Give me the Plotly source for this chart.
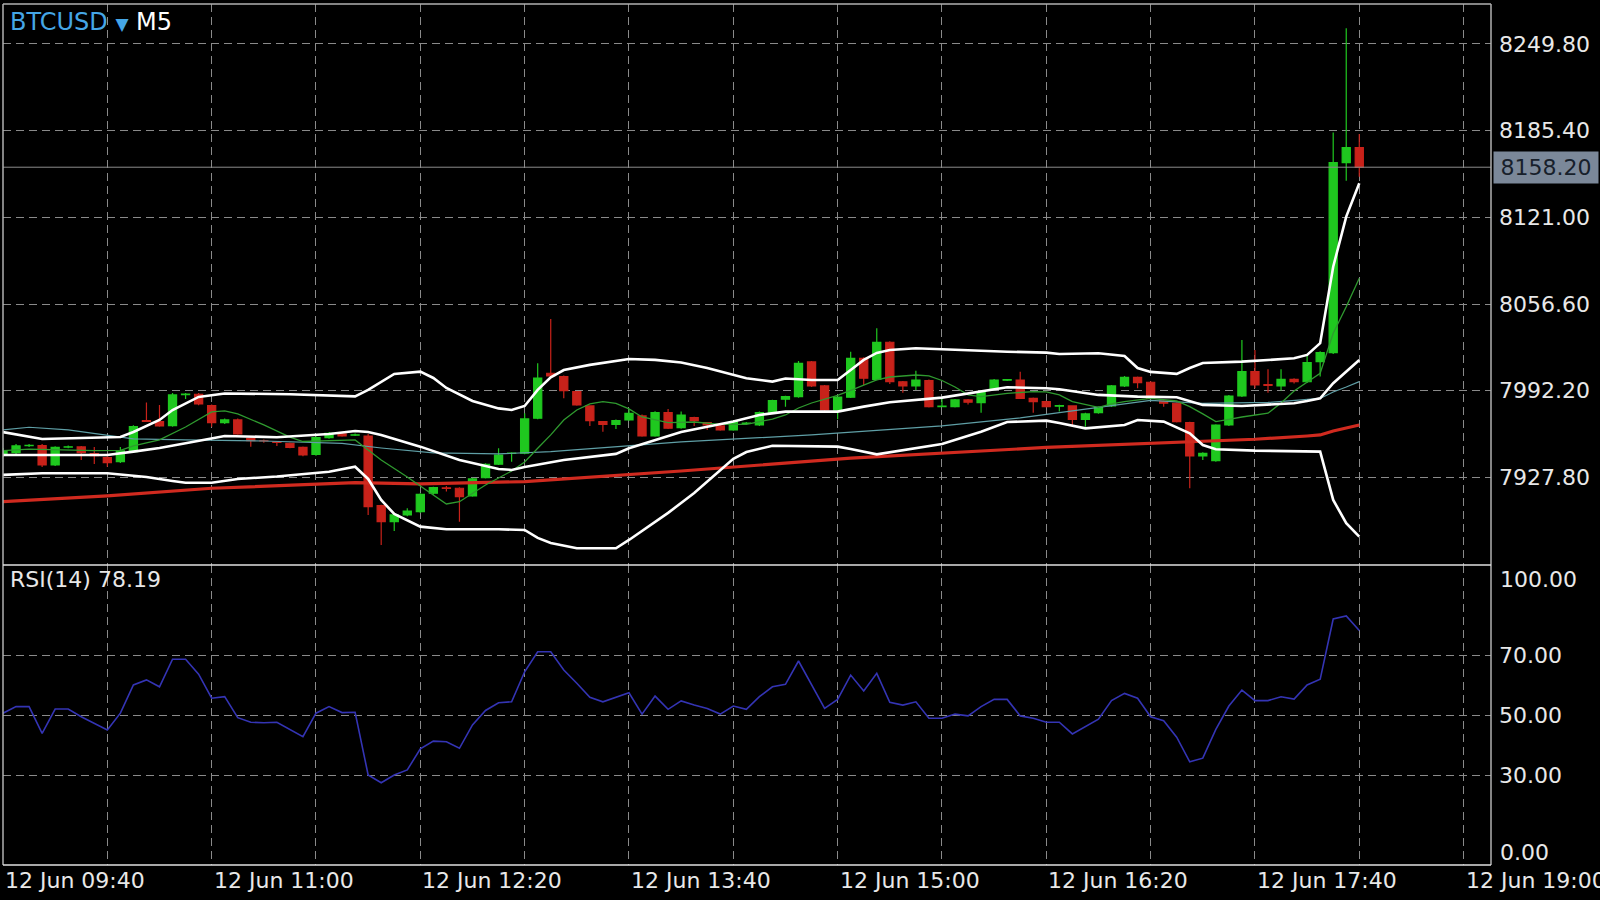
import plotly.graph_objects as go
import pandas as pd

# ---------------- data ----------------
times = pd.date_range("2018-06-12 09:40", periods=105, freq="5min")

opens = [7944.5, 7946.2, 7951.4, 7951.4, 7937.1, 7950.4, 7950.5, 7945.5, 7942.5, 7939.5,
         7947.0, 7970.1, 7969.3, 7966.3, 7989.3, 7989.6, 7981.1, 7968.5, 7970.5, 7956.9,
         7955.0, 7954.2, 7953.2, 7950.2, 7945.0, 7957.4, 7960.1, 7959.2, 7958.6, 7906.9,
         7895.0, 7900.0, 7902.4, 7916.1, 7920.0, 7919.8, 7914.1, 7927.6, 7937.6, 7945.6,
         7945.8, 7971.8, 8005.2, 8002.7, 7991.5, 7980.9, 7969.3, 7967.3, 7970.5, 7973.5,
         7958.6, 7975.9, 7964.8, 7972.2, 7968.5, 7966.1, 7963.1, 7968.0, 7966.8, 7976.2,
         7985.9, 7987.8, 8013.6, 7995.8, 7977.9, 7987.4, 8016.3, 8000.7, 8028.2, 7998.9,
         7995.8, 7999.7, 7980.4, 7980.4, 7985.4, 7983.4, 7993.3, 8000.0, 8000.2, 7986.6,
         7984.1, 7980.7, 7980.9, 7971.0, 7975.9, 7980.9, 7995.8, 8002.2, 7998.5, 7984.6,
         7982.9, 7968.5, 7943.8, 7940.3, 7966.8, 7988.3, 8006.4, 7996.8, 7995.8, 8000.7,
         7998.9, 8013.8, 8020.5, 8161.6, 8172.7]
highs = [7949.7, 7952.7, 7952.7, 7952.7, 7951.0, 7951.5, 7951.2, 7950.5, 7943.5, 7950.5,
         7966.5, 7983.4, 7981.6, 7990.6, 7990.6, 7990.6, 7982.0, 7971.5, 7971.5, 7957.5,
         7956.0, 7954.8, 7953.8, 7950.8, 7958.5, 7961.5, 7960.8, 7960.5, 7960.0, 7907.5,
         7901.0, 7904.9, 7916.0, 7921.0, 7921.5, 7920.5, 7927.5, 7938.3, 7949.5, 7946.5,
         7975.5, 8012.6, 8045.5, 8003.5, 7992.0, 7981.5, 7969.8, 7970.8, 7978.7, 7974.5,
         7977.0, 7978.7, 7976.8, 7972.8, 7969.0, 7966.8, 7970.0, 7969.0, 7976.8, 7985.5,
         7988.5, 8014.3, 8014.3, 7996.5, 7988.0, 8021.2, 8017.0, 8038.6, 8029.0, 7999.5,
         8007.1, 8000.5, 7986.6, 7986.0, 7986.0, 7991.5, 8001.0, 8001.0, 8006.4, 7987.2,
         7984.8, 7981.8, 7981.5, 7975.8, 7980.5, 7996.5, 8003.2, 8002.8, 7999.2, 7985.2,
         7983.5, 7969.2, 7946.5, 7967.3, 7989.0, 8029.9, 8022.5, 8008.2, 8008.2, 8001.5,
         8018.8, 8021.5, 8183.9, 8261.4, 8182.9]
lows = [7943.0, 7945.3, 7950.5, 7935.6, 7936.3, 7949.5, 7940.8, 7937.8, 7935.8, 7938.5,
        7946.0, 7969.0, 7965.5, 7965.5, 7986.1, 7981.5, 7965.5, 7967.5, 7959.5, 7950.7,
        7953.5, 7951.2, 7949.5, 7943.5, 7944.0, 7956.5, 7958.0, 7958.6, 7899.9, 7877.7,
        7888.1, 7899.0, 7901.5, 7915.0, 7917.3, 7895.0, 7913.5, 7927.0, 7937.0, 7939.5,
        7945.0, 7971.0, 8002.5, 7986.6, 7981.0, 7966.1, 7961.8, 7963.8, 7970.0, 7958.0,
        7958.0, 7963.8, 7964.0, 7966.1, 7963.1, 7962.5, 7962.5, 7967.0, 7966.0, 7975.5,
        7980.4, 7987.0, 7995.0, 7977.0, 7971.0, 7986.8, 7996.5, 8000.0, 7997.2, 7990.8,
        7992.8, 7979.8, 7980.0, 7979.8, 7982.0, 7975.9, 7992.5, 7999.5, 7986.0, 7975.9,
        7979.8, 7976.7, 7966.1, 7965.5, 7975.2, 7980.2, 7995.0, 7994.0, 7986.0, 7980.4,
        7968.7, 7919.8, 7940.8, 7939.5, 7966.0, 7987.6, 7994.0, 7990.8, 7992.3, 7997.5,
        7998.0, 8002.7, 8019.5, 8148.2, 8151.2]
closes = [7947.7, 7951.2, 7951.6, 7937.1, 7950.2, 7950.6, 7946.2, 7944.0, 7938.8, 7947.5,
          7965.5, 7969.4, 7966.1, 7989.1, 7989.8, 7982.4, 7968.5, 7970.5, 7960.1, 7955.1,
          7954.9, 7953.8, 7950.2, 7944.5, 7957.4, 7960.6, 7958.6, 7959.5, 7906.1, 7895.0,
          7900.0, 7902.9, 7915.3, 7920.2, 7919.6, 7913.6, 7926.7, 7937.6, 7944.5, 7945.9,
          7971.3, 8001.5, 8003.2, 7992.3, 7981.6, 7970.0, 7967.3, 7970.0, 7975.5, 7958.6,
          7975.9, 7964.4, 7974.2, 7970.0, 7966.8, 7963.1, 7969.3, 7968.2, 7975.9, 7984.8,
          7987.8, 8012.6, 7995.8, 7977.9, 7987.4, 8016.3, 8001.5, 8028.2, 7998.9, 7995.8,
          8000.2, 7980.4, 7980.8, 7985.4, 7983.7, 7990.8, 8000.2, 8000.4, 7986.6, 7984.1,
          7980.4, 7981.1, 7971.0, 7975.0, 7979.9, 7995.8, 8002.2, 7998.2, 7986.6, 7982.9,
          7969.3, 7943.8, 7945.8, 7966.6, 7988.3, 8006.4, 7996.5, 7996.2, 8000.7, 7998.9,
          8013.1, 8020.5, 8161.6, 8172.7, 8158.2]

# Bollinger bands (read at bar indices)
bb_upper_bars = [0, 3, 9, 10, 12, 13, 15, 17, 22, 27, 28, 29, 30, 32, 33, 34, 36, 38, 39, 40,
                 41, 42, 43, 45, 47, 48, 50, 52, 54, 57, 59, 60, 62, 64, 65, 66, 67, 68, 70, 73,
                 77, 80, 81, 84, 86, 87, 88, 90, 91, 92, 95, 99, 100, 101, 102, 103, 104]
bb_upper_vals = [7961.5, 7956.4, 7957.9, 7961.6, 7970.5, 7977.9, 7987.6, 7990.2, 7989.6, 7988.0,
                 7992.8, 7999.0, 8004.7, 8006.4, 8001.7, 7994.3, 7984.6, 7979.1, 7977.9, 7980.9,
                 7992.8, 8002.2, 8007.6, 8011.4, 8014.3, 8015.8, 8015.1, 8013.2, 8009.1, 8001.5,
                 7999.0, 8001.3, 8000.2, 8000.2, 8007.6, 8015.1, 8020.3, 8022.5, 8023.8, 8022.5,
                 8021.2, 8020.5, 8019.5, 8020.0, 8018.0, 8009.1, 8006.2, 8004.7, 8009.1, 8012.8,
                 8013.8, 8016.3, 8018.8, 8027.5, 8084.3, 8121.5, 8146.3]
bb_mid_bars = [0, 8, 10, 12, 14, 17, 21, 25, 27, 28, 29, 32, 35, 38, 39, 40, 43, 47, 48, 51,
               52, 56, 58, 60, 64, 66, 68, 72, 77, 80, 81, 84, 87, 90, 92, 95, 99, 100, 101, 102,
               103, 104]
bb_mid_vals = [7944.5, 7944.5, 7947.0, 7949.7, 7953.2, 7958.6, 7957.7, 7960.1, 7962.3, 7961.6,
               7959.4, 7950.7, 7940.8, 7934.1, 7933.4, 7935.6, 7940.8, 7945.3, 7949.5, 7958.6,
               7961.6, 7969.3, 7974.2, 7976.7, 7976.7, 7980.4, 7983.7, 7987.1, 7994.8, 7994.1,
               7993.3, 7989.1, 7987.8, 7987.4, 7981.7, 7980.9, 7982.9, 7984.6, 7986.6, 7997.8,
               8006.4, 8015.1]
bb_lower_bars = [0, 3, 8, 11, 13, 14, 16, 18, 21, 24, 25, 27, 28, 29, 30, 32, 34, 38, 40, 41,
                 42, 44, 47, 48, 49, 51, 53, 54, 56, 57, 59, 64, 65, 67, 69, 72, 75, 77, 80, 81,
                 83, 86, 87, 89, 91, 92, 93, 96, 101, 102, 103, 104]
bb_lower_vals = [7929.7, 7930.9, 7930.9, 7928.2, 7925.2, 7923.9, 7923.9, 7926.7, 7928.5, 7930.9,
                 7932.1, 7935.8, 7926.7, 7911.1, 7900.7, 7891.3, 7889.3, 7889.3, 7888.8, 7882.9,
                 7879.2, 7875.2, 7875.2, 7881.4, 7888.1, 7901.5, 7916.3, 7924.5, 7941.6, 7946.7,
                 7951.4, 7950.7, 7949.0, 7945.0, 7948.2, 7952.7, 7961.8, 7969.0, 7970.0, 7968.3,
                 7964.3, 7966.8, 7970.5, 7969.3, 7960.6, 7951.9, 7948.8, 7947.7, 7947.0, 7911.1,
                 7893.8, 7883.9]

# fast moving average (green)
ma_fast_bars = [0, 2, 7, 9, 10, 12, 14, 16, 17, 18, 20, 22, 23, 25, 27, 28, 29, 31, 32, 34,
                35, 36, 37, 39, 40, 41, 42, 43, 44, 45, 46, 47, 48, 49, 51, 53, 55, 57, 58, 59,
                60, 61, 62, 63, 64, 65, 66, 67, 68, 70, 71, 72, 73, 74, 75, 77, 79, 80, 81, 82,
                84, 85, 86, 88, 90, 91, 92, 93, 94, 95, 97, 98, 99, 100, 101, 102, 103, 104]
ma_fast_vals = [7947.7, 7948.8, 7947.7, 7947.9, 7951.2, 7955.7, 7965.3, 7976.5, 7977.2, 7975.0,
                7966.8, 7957.7, 7954.5, 7954.9, 7955.7, 7948.2, 7940.8, 7928.2, 7921.5, 7908.1,
                7909.8, 7916.3, 7922.2, 7932.6, 7939.3, 7949.5, 7959.4, 7970.5, 7977.9, 7982.4,
                7984.1, 7982.8, 7978.7, 7972.7, 7968.5, 7969.0, 7967.3, 7967.3, 7969.0, 7971.2,
                7974.2, 7979.4, 7983.1, 7986.1, 7988.7, 7992.4, 7996.5, 8000.2, 8002.4, 8003.9,
                8003.2, 7999.8, 7995.0, 7989.1, 7987.8, 7990.3, 7991.5, 7991.3, 7989.1, 7984.1,
                7979.9, 7982.4, 7984.1, 7986.6, 7984.6, 7980.4, 7975.0, 7969.3, 7970.9, 7972.7,
                7975.5, 7983.1, 7992.0, 7998.7, 8005.2, 8034.9, 8054.6, 8075.7]

# medium moving average (teal)
ma_mid_bars = [0, 2, 5, 8, 10, 14, 20, 26, 29, 33, 38, 42, 47, 52, 62, 72, 78, 82, 85, 88,
               92, 97, 101, 102, 103, 104]
ma_mid_vals = [7963.1, 7965.1, 7963.1, 7959.4, 7956.4, 7955.7, 7954.9, 7953.1, 7949.7, 7946.0,
               7945.3, 7947.0, 7950.7, 7954.2, 7959.4, 7966.1, 7972.0, 7977.2, 7981.6, 7985.0,
               7982.8, 7983.5, 7986.5, 7991.3, 7995.0, 7999.0]

# slow moving average (red)
ma_slow_bars = [0, 8, 16, 27, 32, 40, 52, 65, 80, 92, 96, 100, 101, 102, 104]
ma_slow_vals = [7909.8, 7914.1, 7919.8, 7923.9, 7923.0, 7924.7, 7932.6, 7942.1, 7950.1, 7954.4,
                7956.2, 7958.6, 7959.4, 7962.3, 7966.8]

rsi = [50.6, 52.8, 52.8, 43.9, 52.0, 52.0, 49.4, 47.2, 45.0, 50.6,
       60.0, 61.7, 59.4, 68.6, 68.6, 63.6, 55.6, 56.1, 49.1, 47.6,
       47.4, 47.6, 45.2, 42.8, 50.6, 52.8, 50.8, 50.9, 30.0, 27.4,
       30.0, 31.7, 38.7, 41.3, 41.1, 38.9, 46.7, 51.5, 54.1, 54.4,
       64.4, 71.1, 71.1, 65.0, 60.6, 55.9, 54.4, 55.9, 57.4, 50.3,
       56.3, 51.9, 54.7, 53.3, 52.2, 50.3, 53.0, 51.9, 56.1, 59.4,
       60.2, 68.0, 60.0, 52.2, 55.2, 63.3, 58.0, 63.9, 54.2, 53.3,
       54.4, 48.9, 48.9, 50.3, 49.7, 52.8, 55.2, 55.2, 49.7, 48.9,
       47.6, 47.6, 43.7, 46.1, 48.6, 54.8, 57.2, 55.6, 49.4, 48.1,
       42.6, 34.4, 35.6, 45.2, 53.0, 58.3, 54.8, 54.8, 56.1, 55.3,
       60.0, 61.9, 82.0, 83.0, 78.19]

price_ticks = [7927.8, 7992.2, 8056.6, 8121.0, 8185.4, 8249.8]
price_tick_text = ["7927.80", "7992.20", "8056.60", "8121.00", "8185.40", "8249.80"]
rsi_ticks = [30, 50, 70]
rsi_tick_text = ["30.00", "50.00", "70.00"]
time_ticks = ["2018-06-12 09:40", "2018-06-12 11:00", "2018-06-12 12:20", "2018-06-12 13:40",
              "2018-06-12 15:00", "2018-06-12 16:20", "2018-06-12 17:40", "2018-06-12 19:00"]
time_tick_text = ["12 Jun 09:40", "12 Jun 11:00", "12 Jun 12:20", "12 Jun 13:40",
                  "12 Jun 15:00", "12 Jun 16:20", "12 Jun 17:40", "12 Jun 19:00"]
last_price = 8158.20
rsi_last = 78.19

# ---------------- style ----------------
FONT = "DejaVu Sans"
GRID = "#8a8a8a"
DASH = "8px,5px"
W, H = 1600, 900
ML, MR, MT, MB = 3, 109, 4, 35
split = 300 / 861.0


def tx(bars):
    return [times[i] for i in bars]


fig = go.Figure()

fig.add_trace(go.Candlestick(
    x=times, open=opens, high=highs, low=lows, close=closes,
    increasing=dict(line=dict(color="#1fc81f", width=1.2), fillcolor="#1fc81f"),
    decreasing=dict(line=dict(color="#c8221a", width=1.2), fillcolor="#c8221a"),
    whiskerwidth=0, xaxis="x", yaxis="y", showlegend=False))

fig.add_trace(go.Scatter(x=tx(ma_slow_bars), y=ma_slow_vals, mode="lines",
                         line=dict(color="#d02a1f", width=3.2), xaxis="x", yaxis="y"))
fig.add_trace(go.Scatter(x=tx(ma_mid_bars), y=ma_mid_vals, mode="lines",
                         line=dict(color="#5f9fa6", width=1.2), xaxis="x", yaxis="y"))
fig.add_trace(go.Scatter(x=tx(ma_fast_bars), y=ma_fast_vals, mode="lines",
                         line=dict(color="#2f9a2f", width=1.3), xaxis="x", yaxis="y"))
for bars, vals in [(bb_upper_bars, bb_upper_vals), (bb_mid_bars, bb_mid_vals),
                   (bb_lower_bars, bb_lower_vals)]:
    fig.add_trace(go.Scatter(x=tx(bars), y=vals, mode="lines",
                             line=dict(color="#ffffff", width=2.6), xaxis="x", yaxis="y"))

fig.add_trace(go.Scatter(x=times, y=rsi, mode="lines",
                         line=dict(color="#3434b4", width=1.6), xaxis="x2", yaxis="y2"))

x_range = [pd.Timestamp("2018-06-12 09:40"), pd.Timestamp("2018-06-12 09:40") + pd.Timedelta(minutes=570.5)]
xcommon = dict(range=x_range, showgrid=True, gridcolor=GRID, griddash=DASH, gridwidth=1,
               tick0="2018-06-12 09:40", dtick=40 * 60 * 1000, showticklabels=False,
               zeroline=False, showline=False, ticks="", type="date")

fig.update_layout(
    width=W, height=H,
    margin=dict(l=ML, r=MR, t=MT, b=MB, pad=0, autoexpand=False),
    paper_bgcolor="#000000", plot_bgcolor="#000000",
    showlegend=False,
    boxgap=0.21, boxgroupgap=0.21,
    font=dict(family=FONT, size=22, color="#e8e8e8"),
    xaxis=dict(domain=[0, 1], anchor="y", rangeslider=dict(visible=False), **xcommon),
    xaxis2=dict(domain=[0, 1], anchor="y2", matches="x", **xcommon),
    yaxis=dict(domain=[split, 1], side="right", range=[7862.8, 8279.4],
               tickmode="array", tickvals=price_ticks, ticktext=price_tick_text,
               showgrid=True, gridcolor=GRID, griddash=DASH, gridwidth=1,
               zeroline=False, showline=False, ticks="", ticklabelstandoff=7,
               tickfont=dict(family=FONT, size=22, color="#e8e8e8")),
    yaxis2=dict(domain=[0, split], side="right", range=[0, 100],
                tickmode="array", tickvals=rsi_ticks, ticktext=rsi_tick_text,
                showgrid=True, gridcolor=GRID, griddash=DASH, gridwidth=1,
                zeroline=False, showline=False, ticks="", ticklabelstandoff=7,
                tickfont=dict(family=FONT, size=22, color="#e8e8e8")),
)

shapes = [
    # current price line
    dict(type="line", xref="paper", yref="y", x0=0, x1=1, y0=last_price, y1=last_price,
         line=dict(color="#8c8c8c", width=1)),
    # frame
    dict(type="line", xref="paper", yref="paper", x0=0, x1=0, y0=0, y1=1, line=dict(color="#b0b0b0", width=1.5)),
    dict(type="line", xref="paper", yref="paper", x0=1, x1=1, y0=0, y1=1, line=dict(color="#b0b0b0", width=1.5)),
    dict(type="line", xref="paper", yref="paper", x0=0, x1=1, y0=1, y1=1, line=dict(color="#b0b0b0", width=1.5)),
    dict(type="line", xref="paper", yref="paper", x0=0, x1=1, y0=split, y1=split, line=dict(color="#e0e0e0", width=1.5)),
    dict(type="line", xref="paper", yref="paper", x0=0, x1=1, y0=0, y1=0, line=dict(color="#e0e0e0", width=1.5)),
]
fig.update_layout(shapes=shapes)

ann = []
ann.append(dict(xref="paper", yref="paper", x=5 / 1488, y=(865 - 21.5) / 861, xanchor="left", yanchor="middle",
                showarrow=False,
                text='<span style="color:#45a6e6">BTCUSD</span> <span style="color:#45a6e6;font-size:17px">▼</span> M5',
                font=dict(family=FONT, size=24, color="#ffffff")))
ann.append(dict(xref="paper", yref="paper", x=5 / 1488, y=(865 - 579) / 861, xanchor="left", yanchor="middle",
                showarrow=False, text="RSI(14) %.2f" % rsi_last,
                font=dict(family=FONT, size=22, color="#e8e8e8")))
ann.append(dict(xref="paper", yref="y", x=1, xshift=2, y=last_price, xanchor="left", yanchor="middle",
                showarrow=False, text="%.2f" % last_price, bgcolor="#7b8899", borderpad=3, width=98,
                align="center", font=dict(family=FONT, size=22, color="#17202b")))
ann.append(dict(xref="paper", yref="paper", x=1, xshift=7, y=(865 - 579) / 861, xanchor="left", yanchor="middle",
                showarrow=False, text="100.00", font=dict(family=FONT, size=22, color="#e8e8e8")))
ann.append(dict(xref="paper", yref="paper", x=1, xshift=7, y=(865 - 852) / 861, xanchor="left", yanchor="middle",
                showarrow=False, text="0.00", font=dict(family=FONT, size=22, color="#e8e8e8")))
for t, s in zip(time_ticks, time_tick_text):
    ann.append(dict(xref="x2", yref="paper", x=t, y=-15 / 861, xanchor="left", yanchor="middle",
                    showarrow=False, text=s, xshift=0,
                    font=dict(family=FONT, size=22, color="#e8e8e8")))
fig.update_layout(annotations=ann)

fig.write_html("out.html", config={"displayModeBar": False},
               post_script="document.body.style.margin='0px';document.body.style.overflow='hidden';")
